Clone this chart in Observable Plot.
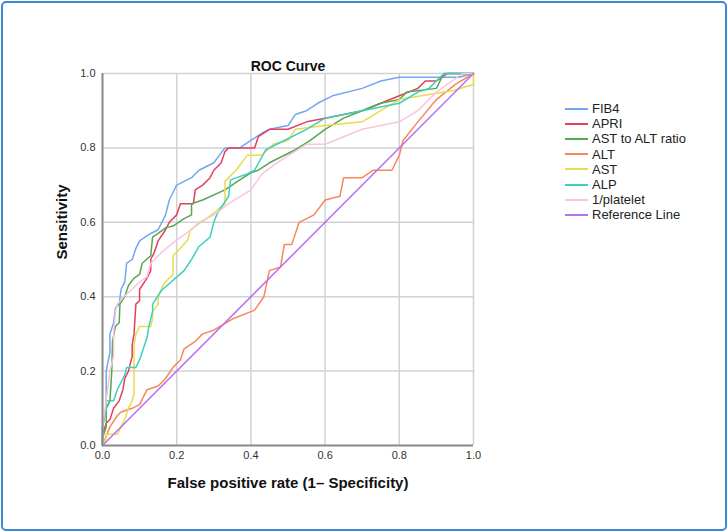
<!DOCTYPE html>
<html>
<head>
<meta charset="utf-8">
<script src="https://cdn.jsdelivr.net/npm/d3@7"></script>
<script src="https://cdn.jsdelivr.net/npm/@observablehq/plot@0.6"></script>
<style>
  html, body { margin: 0; padding: 0; background: #fff; }
  #wrap { position: relative; width: 728px; height: 532px; overflow: hidden; font-family: "Liberation Sans", Arial, sans-serif; }
  #wrap svg { position: absolute; left: 0; top: 0; }
  #border { position: absolute; left: 1px; top: 1px; right: 1px; bottom: 1px; border: 2px solid #3a89d4; border-radius: 5px; pointer-events: none; }
  #legend { position: absolute; left: 565px; top: 101px; font-size: 13px; color: #222; }
  #legend .row { display: flex; align-items: center; height: 15.2px; line-height: 15px; white-space: nowrap; }
  #legend .sw { width: 23px; height: 2px; margin-right: 4px; }
</style>
</head>
<body>
<div id="wrap"><div id="border"></div></div>
<script>
const series = ["FIB4", "APRI", "AST to ALT ratio", "ALT", "AST", "ALP", "1/platelet", "Reference Line"];
const colors = ["#74a6f0", "#e2405f", "#55a84f", "#f7875a", "#eadb4c", "#3fcfbd", "#f9c4dd", "#b870f0"];
const ticks = [0, 0.2, 0.4, 0.6, 0.8, 1.0];

const fib4 = [[0,0],[0,0.05],[0.01,0.1],[0.01,0.2],[0.02,0.25],[0.02,0.3],[0.03,0.33],[0.035,0.37],[0.045,0.38],[0.05,0.42],[0.06,0.44],[0.065,0.49],[0.08,0.5],[0.09,0.53],[0.1,0.55],[0.115,0.56],[0.13,0.57],[0.15,0.58],[0.16,0.6],[0.17,0.62],[0.18,0.66],[0.19,0.68],[0.2,0.7],[0.22,0.71],[0.24,0.72],[0.26,0.74],[0.3,0.76],[0.33,0.8],[0.37,0.8],[0.4,0.82],[0.43,0.84],[0.45,0.85],[0.5,0.86],[0.52,0.89],[0.55,0.9],[0.58,0.92],[0.62,0.94],[0.7,0.96],[0.75,0.98],[0.8,0.99],[0.96,0.99],[1,1]];
const apri = [[0,0],[0,0.03],[0.01,0.06],[0.02,0.07],[0.03,0.1],[0.045,0.12],[0.055,0.15],[0.06,0.18],[0.07,0.2],[0.075,0.22],[0.08,0.24],[0.08,0.27],[0.085,0.3],[0.09,0.38],[0.1,0.39],[0.1,0.42],[0.12,0.45],[0.13,0.47],[0.13,0.5],[0.14,0.52],[0.15,0.55],[0.17,0.58],[0.18,0.6],[0.2,0.62],[0.21,0.65],[0.245,0.65],[0.25,0.687],[0.27,0.7],[0.29,0.72],[0.3,0.74],[0.32,0.76],[0.33,0.79],[0.34,0.8],[0.41,0.8],[0.42,0.83],[0.45,0.85],[0.5,0.85],[0.55,0.87],[0.6,0.88],[0.65,0.89],[0.7,0.9],[0.75,0.92],[0.8,0.94],[0.85,0.96],[0.87,0.98],[0.9,0.98],[0.93,1],[1,1]];
const astAlt = [[0,0],[0,0.02],[0.01,0.05],[0.01,0.1],[0.02,0.12],[0.025,0.2],[0.027,0.28],[0.035,0.32],[0.045,0.33],[0.047,0.38],[0.06,0.4],[0.07,0.43],[0.085,0.45],[0.1,0.46],[0.107,0.49],[0.13,0.51],[0.135,0.56],[0.15,0.57],[0.17,0.585],[0.19,0.59],[0.22,0.61],[0.24,0.62],[0.24,0.65],[0.27,0.66],[0.33,0.687],[0.37,0.714],[0.4,0.733],[0.42,0.74],[0.45,0.76],[0.52,0.795],[0.56,0.82],[0.6,0.85],[0.65,0.88],[0.7,0.9],[0.75,0.92],[0.8,0.93],[0.82,0.95],[0.9,0.96],[0.92,1],[1,1]];
const alt = [[0,0],[0.02,0.05],[0.04,0.08],[0.05,0.09],[0.08,0.1],[0.1,0.11],[0.11,0.13],[0.12,0.15],[0.15,0.16],[0.17,0.18],[0.19,0.21],[0.21,0.23],[0.22,0.26],[0.25,0.28],[0.27,0.3],[0.3,0.31],[0.35,0.34],[0.4,0.36],[0.41,0.364],[0.435,0.4],[0.45,0.47],[0.48,0.48],[0.49,0.54],[0.51,0.54],[0.53,0.6],[0.55,0.61],[0.57,0.62],[0.6,0.66],[0.64,0.67],[0.65,0.72],[0.7,0.72],[0.73,0.74],[0.78,0.74],[0.8,0.78],[0.81,0.82],[0.85,0.87],[0.9,0.93],[0.95,0.97],[1,1]];
const ast = [[0,0],[0.01,0.02],[0.01,0.03],[0.04,0.03],[0.05,0.05],[0.06,0.07],[0.07,0.1],[0.08,0.12],[0.085,0.14],[0.085,0.27],[0.09,0.3],[0.1,0.32],[0.13,0.32],[0.135,0.34],[0.135,0.36],[0.15,0.38],[0.15,0.4],[0.165,0.435],[0.19,0.46],[0.19,0.51],[0.205,0.525],[0.23,0.553],[0.237,0.58],[0.28,0.61],[0.3,0.625],[0.33,0.65],[0.33,0.71],[0.36,0.74],[0.39,0.78],[0.43,0.78],[0.46,0.81],[0.5,0.82],[0.52,0.85],[0.6,0.86],[0.7,0.87],[0.75,0.9],[0.8,0.93],[0.86,0.94],[0.95,0.955],[0.98,0.965],[1,0.97],[1,1]];
const alp = [[0,0],[0,0.05],[0.01,0.1],[0.01,0.12],[0.03,0.12],[0.04,0.15],[0.05,0.17],[0.06,0.19],[0.065,0.21],[0.09,0.21],[0.1,0.23],[0.11,0.26],[0.12,0.29],[0.125,0.32],[0.135,0.36],[0.135,0.38],[0.16,0.418],[0.19,0.444],[0.22,0.47],[0.24,0.5],[0.26,0.535],[0.29,0.56],[0.3,0.6],[0.31,0.625],[0.34,0.67],[0.345,0.714],[0.39,0.73],[0.41,0.74],[0.44,0.795],[0.49,0.82],[0.55,0.85],[0.6,0.88],[0.7,0.9],[0.8,0.92],[0.85,0.95],[0.88,0.96],[0.92,1],[1,1]];
const platelet = [[0,0],[0,0.05],[0.01,0.12],[0.02,0.2],[0.03,0.24],[0.03,0.3],[0.035,0.36],[0.04,0.38],[0.057,0.4],[0.08,0.42],[0.1,0.44],[0.12,0.453],[0.13,0.49],[0.157,0.517],[0.2,0.553],[0.24,0.58],[0.26,0.6],[0.3,0.62],[0.34,0.65],[0.4,0.687],[0.43,0.73],[0.47,0.76],[0.55,0.81],[0.6,0.81],[0.65,0.83],[0.7,0.85],[0.8,0.87],[0.85,0.9],[0.9,0.95],[0.97,1],[1,1]];
const reference = [[0,0],[1,1]];

const curves = [fib4, apri, astAlt, alt, ast, alp, platelet, reference];
const rows = curves.flatMap((pts, i) => pts.map(([fpr, tpr], k) => ({series: series[i], fpr, tpr, k})));

const plot = Plot.plot({
  width: 728,
  height: 532,
  marginLeft: 102,
  marginRight: 255,
  marginTop: 73,
  marginBottom: 87,
  style: {fontFamily: "'Liberation Sans', Arial, sans-serif", fontSize: "11px", color: "#333", background: "transparent"},
  x: {domain: [0, 1], ticks, tickFormat: d3.format(".1f"), tickSize: 0, tickPadding: 6, label: null},
  y: {domain: [0, 1], ticks, tickFormat: d3.format(".1f"), tickSize: 0, tickPadding: 7, label: null},
  color: {domain: series, range: colors},
  marks: [
    Plot.ruleX(ticks, {stroke: "#d2d2d2", strokeWidth: 1.5}),
    Plot.ruleY(ticks, {stroke: "#d2d2d2", strokeWidth: 1.5}),
    Plot.line(rows, {x: "fpr", y: "tpr", z: "series", stroke: "series", strokeWidth: 1.5, curve: "linear"}),
    Plot.ruleX([0], {stroke: "#8c8c8c", strokeWidth: 2}),
    Plot.ruleY([0], {stroke: "#8c8c8c", strokeWidth: 2}),
    Plot.text(["ROC Curve"], {text: d => d, frameAnchor: "top", lineAnchor: "bottom", dy: -3, fontSize: 14, fontWeight: "bold", fill: "#111"}),
    Plot.text(["False positive rate (1\u2013 Specificity)"], {text: d => d, frameAnchor: "bottom", lineAnchor: "middle", dy: 38, fontSize: 15, fontWeight: "bold", fill: "#111"}),
    Plot.text(["Sensitivity"], {text: d => d, frameAnchor: "left", rotate: -90, dx: -40, fontSize: 15, fontWeight: "bold", fill: "#111"})
  ]
});

const wrap = document.getElementById("wrap");
wrap.insertBefore(plot, wrap.firstChild);

const legend = document.createElement("div");
legend.id = "legend";
series.forEach((s, i) => {
  const row = document.createElement("div");
  row.className = "row";
  const sw = document.createElement("span");
  sw.className = "sw";
  sw.style.background = colors[i];
  const label = document.createElement("span");
  label.textContent = s;
  row.appendChild(sw);
  row.appendChild(label);
  legend.appendChild(row);
});
wrap.appendChild(legend);
</script>
</body>
</html>
